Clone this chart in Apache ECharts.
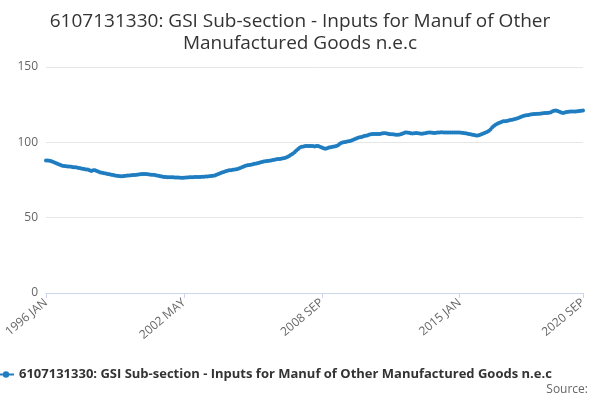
<!DOCTYPE html>
<html><head><meta charset="utf-8">
<script src="https://cdn.jsdelivr.net/npm/echarts@6/dist/echarts.min.js"></script>
<style>html,body{margin:0;padding:0}#c{width:600px;height:400px}</style>
</head><body><div id="c"></div>
<script>
var years = [];
for (var y = 1996; y <= 2020; y++) years.push(y);
var monthNames = ['JAN','FEB','MAR','APR','MAY','JUN','JUL','AUG','SEP','OCT','NOV','DEC'];

var values = [
  88,88,87.8,87.5,87,86.5,86,85.5,85,84.5,84.3,84.2,
  84,84,83.8,83.5,83.5,83.3,83,82.8,82.5,82.3,82,82,
  81.5,81,81.5,81.5,81,80.5,80,79.8,79.5,79.3,79,78.8,
  78.5,78.3,78,77.8,77.7,77.5,77.5,77.6,77.8,78,78,78.2,
  78.3,78.3,78.5,78.7,78.8,79,79,79,78.8,78.7,78.5,78.5,
  78.3,78,77.8,77.5,77.3,77,77,76.8,76.8,76.8,76.8,76.7,
  76.7,76.6,76.5,76.5,76.5,76.6,76.7,76.8,76.8,76.9,77,77,
  77,77,77.1,77.2,77.3,77.4,77.5,77.6,77.8,78,78.5,79,
  79.5,80,80.3,80.8,81.2,81.5,81.5,81.8,82,82.2,82.5,83,
  83.5,84,84.5,84.8,85,85.2,85.5,85.8,86,86.3,86.6,87,
  87.3,87.5,87.6,87.8,88,88.2,88.5,88.8,89,89,89.2,89.5,
  89.8,90.3,91,91.8,92.5,93.5,94.5,95.5,96.5,97,97.3,97.5,
  97.5,97.5,97.6,97.5,97.3,97.5,97.5,97,96.5,96,95.8,96,
  96.5,96.8,97,97.2,97.5,98,99,99.8,100,100.3,100.5,100.8,
  101,101.5,102,102.5,103,103.3,103.6,104,104.3,104.6,105,105.3,
  105.5,105.5,105.6,105.5,105.5,105.8,106,106,105.8,105.5,105.3,105.3,
  105.2,105,105,105.2,105.5,106,106.5,106.5,106.3,106,105.8,106,
  106.2,106,105.8,105.7,105.8,106,106.3,106.5,106.5,106.3,106.2,106.4,
  106.5,106.6,106.7,106.6,106.5,106.5,106.5,106.6,106.6,106.5,106.5,106.5,
  106.5,106.4,106.2,106,105.8,105.5,105.3,105,104.8,104.6,104.5,104.8,
  105.3,105.8,106.3,106.8,107.5,108.5,110,111,111.8,112.5,113,113.5,
  114,114,114.2,114.5,114.8,115,115.3,115.6,116,116.5,117,117.5,
  117.8,118,118.2,118.5,118.6,118.8,118.8,119,119,119.2,119.3,119.5,
  119.5,119.6,119.8,120.5,121,121.2,120.8,120.3,119.8,119.5,119.8,120.2,
  120.3,120.5,120.4,120.4,120.5,120.6,120.8,121,121.2
];
var categories = [];
for (var i = 0; i < values.length; i++) {
  categories.push(years[Math.floor(i / 12)] + ' ' + monthNames[i % 12]);
}
var seriesName = '6107131330: GSI Sub-section - Inputs for Manuf of Other Manufactured Goods n.e.c';

var myChart = echarts.init(document.getElementById('c'));
var option = {
  animation: false,
  title: {
    text: '6107131330: GSI Sub-section - Inputs for Manuf of Other\nManufactured Goods n.e.c',
    left: 'center', top: 6,
    textStyle: { fontFamily: 'Open Sans', fontSize: 19, fontWeight: 'normal', color: '#333', lineHeight: 22 }
  },
  graphic: [{ type: 'text', right: 12, bottom: 4,
    style: { text: 'Source:', fontFamily: 'Open Sans', fontSize: 12, fill: '#666' } }],
  legend: {
    data: [seriesName], left: -8, bottom: 14, itemWidth: 16, itemHeight: 8,
    textStyle: { fontFamily: 'Open Sans', fontSize: 13, fontWeight: 'bold', color: '#333' }
  },
  grid: { left: 46, right: 17, top: 67, bottom: 107 },
  xAxis: {
    type: 'category', data: categories, boundaryGap: false,
    axisLine: { lineStyle: { color: '#ccd6eb' } },
    axisTick: { interval: 75, lineStyle: { color: '#ccd6eb' } },
    axisLabel: { interval: 75, rotate: 40, color: '#666', fontFamily: 'Open Sans', fontSize: 12,
      showMaxLabel: true }
  },
  yAxis: {
    type: 'value', min: 0, max: 150, interval: 50,
    axisLabel: { color: '#666', fontFamily: 'Open Sans', fontSize: 12 },
    splitLine: { lineStyle: { color: '#e6e6e6' } }
  },
  series: [{
    name: seriesName, type: 'line', data: values,
    symbol: 'circle', symbolSize: 4, showAllSymbol: true,
    itemStyle: { color: '#1f7dc0' }, lineStyle: { width: 2, color: '#1f7dc0' }
  }]
};
myChart.setOption(option);
</script>
</body></html>
